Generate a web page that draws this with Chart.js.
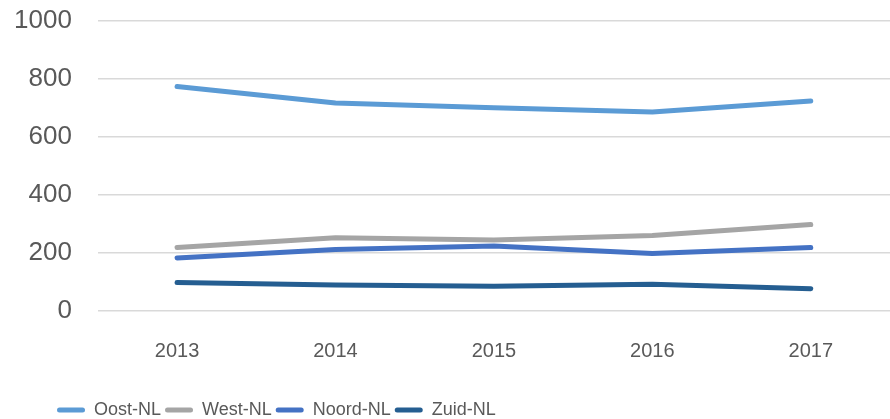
<!DOCTYPE html>
<html>
<head>
<meta charset="utf-8">
<script src="https://cdn.jsdelivr.net/npm/chart.js@4/dist/chart.umd.min.js"></script>
<style>
html,body{margin:0;padding:0;background:#fff;}
#wrap{width:890px;height:419px;}
</style>
</head>
<body>
<div id="wrap"><canvas id="c" width="890" height="419"></canvas></div>
<script>
const years = ['2013','2014','2015','2016','2017'];
const oostNL = [774, 717, 701, 686, 724];
const westNL = [219, 253, 245, 260, 298];
const noordNL = [183, 212, 224, 198, 219];
const zuidNL = [98, 90, 85, 92, 77];
const yTicks = [0, 200, 400, 600, 800, 1000];

const mk = (label, data, color) => ({
  label, data, borderColor: color, backgroundColor: color,
  borderWidth: 5, pointRadius: 0, tension: 0, borderCapStyle: 'round', borderJoinStyle: 'round'
});

const legendShift = {
  id: 'legendShift',
  beforeDraw(chart) {
    const l = chart.legend;
    if (!l) return;
    const pad = l.options.labels.padding;
    const w = l.width;
    l.left = 57 - pad;
    l.right = l.left + w;
  }
};

new Chart(document.getElementById('c'), {
  type: 'line',
  data: {
    labels: years,
    datasets: [
      mk('Oost-NL', oostNL, '#5B9BD5'),
      mk('West-NL', westNL, '#A5A5A5'),
      mk('Noord-NL', noordNL, '#4472C4'),
      mk('Zuid-NL', zuidNL, '#255E91')
    ]
  },
  plugins: [legendShift],
  options: {
    responsive: false,
    animation: false,
    layout: { padding: { left: -12, right: 0, top: 0, bottom: -10 } },
    plugins: {
      tooltip: { enabled: false },
      legend: {
        position: 'bottom',
        align: 'start',
        labels: {
          color: '#595959',
          font: { family: '"Liberation Sans", sans-serif', size: 18 },
          boxWidth: 28, boxHeight: 5, padding: 4,
          useBorderRadius: true, borderRadius: 2.5,
          generateLabels: (chart) => chart.data.datasets.map((d, i) => ({
            text: d.label, fillStyle: d.borderColor, strokeStyle: d.borderColor,
            lineWidth: 0, datasetIndex: i, borderRadius: 2.5, fontColor: '#595959'
          }))
        }
      }
    },
    scales: {
      x: {
        offset: true,
        grid: { display: false },
        border: { display: false },
        afterFit: (s) => { s.height += 14; },
        ticks: {
          color: '#595959', padding: 20,
          font: { family: '"Liberation Sans", sans-serif', size: 20 }
        }
      },
      y: {
        min: 0, max: 1000,
        afterBuildTicks: (axis) => { axis.ticks = yTicks.map(v => ({ value: v })); },
        afterFit: (s) => { s.paddingTop = 21; s.paddingBottom = 0; },
        grid: { color: '#D9D9D9', lineWidth: 1.5, drawTicks: false },
        border: { display: false },
        ticks: {
          color: '#595959', padding: 26,
          callback: (v) => String(v),
          font: { family: '"Liberation Sans", sans-serif', size: 26 }
        }
      }
    }
  }
});
</script>
</body>
</html>
